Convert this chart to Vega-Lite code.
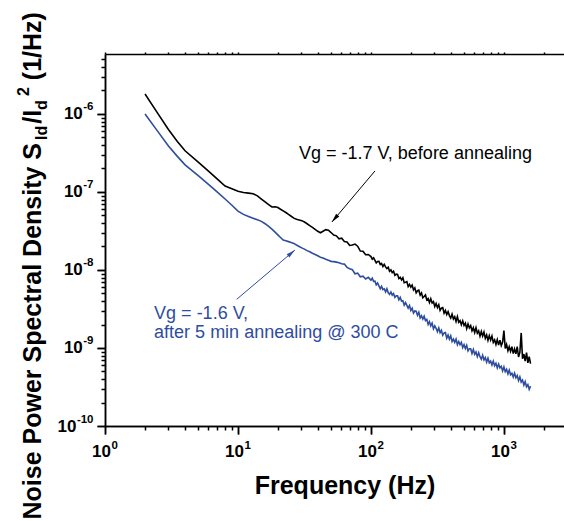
{
"$schema": "https://vega.github.io/schema/vega-lite/v6.json",
"width": 459, "height": 372,
"autosize": "none",
"padding": {"left": 105, "top": 54, "right": 0, "bottom": 95},
"background": "white",
"config": {"font": "Liberation Sans", "view": {"stroke": null},
 "axis": {"grid": false, "domainColor": "black", "tickColor": "black", "labelColor": "black", "titleColor": "black", "domainWidth": 1.5, "tickWidth": 1.5, "labelFlush": false, "labelOverlap": false}},
"datasets": {
"spec": [
{"f":2,"a":1.80e-6,"b":1.00e-6},{"f":2.5,"a":1.01e-6,"b":5.94e-7},{"f":3,"a":6.31e-7,"b":3.89e-7},{"f":3.5,"a":4.44e-7,"b":2.86e-7},{"f":4,"a":3.37e-7,"b":2.23e-7},{"f":5,"a":2.43e-7,"b":1.63e-7},{"f":6,"a":1.85e-7,"b":1.25e-7},{"f":7,"a":1.46e-7,"b":9.95e-8},{"f":8,"a":1.19e-7,"b":8.13e-8},{"f":9,"a":1.10e-7,"b":6.75e-8},
{"f":10,"a":1.02e-7,"b":5.69e-8},{"f":11,"a":9.86e-8,"b":5.16e-8},{"f":12,"a":9.66e-8,"b":4.86e-8},{"f":13,"a":9.48e-8,"b":4.61e-8},{"f":14,"a":8.91e-8,"b":4.39e-8},{"f":15,"a":8.11e-8,"b":4.20e-8},{"f":16,"a":7.45e-8,"b":3.92e-8},{"f":17,"a":6.90e-8,"b":3.61e-8},{"f":18,"a":6.43e-8,"b":3.34e-8},{"f":19,"a":6.46e-8,"b":3.06e-8},
{"f":19.95,"a":6.32e-8,"b":2.82e-8},{"f":20.89,"a":6.01e-8,"b":2.61e-8},{"f":21.88,"a":5.73e-8,"b":2.42e-8},{"f":22.91,"a":5.45e-8,"b":2.37e-8},{"f":23.99,"a":5.15e-8,"b":2.31e-8},{"f":25.12,"a":4.88e-8,"b":2.25e-8},{"f":26.30,"a":4.62e-8,"b":2.19e-8},{"f":27.54,"a":4.46e-8,"b":2.09e-8},{"f":28.84,"a":4.38e-8,"b":2.00e-8},{"f":30.20,"a":4.29e-8,"b":1.92e-8},
{"f":31.62,"a":4.12e-8,"b":1.85e-8},{"f":33.11,"a":3.91e-8,"b":1.77e-8},{"f":34.67,"a":3.71e-8,"b":1.71e-8},{"f":36.31,"a":3.52e-8,"b":1.64e-8},{"f":38.02,"a":3.32e-8,"b":1.58e-8},{"f":39.81,"a":3.13e-8,"b":1.52e-8},{"f":41.69,"a":3.00e-8,"b":1.46e-8},{"f":43.65,"a":3.14e-8,"b":1.42e-8},{"f":45.71,"a":3.29e-8,"b":1.37e-8},{"f":47.86,"a":3.23e-8,"b":1.33e-8},
{"f":50.12,"a":3.02e-8,"b":1.29e-8},{"f":52.48,"a":2.81e-8,"b":1.28e-8},{"f":54.95,"a":2.74e-8,"b":1.26e-8},{"f":57.54,"a":2.51e-8,"b":1.24e-8},{"f":60.26,"a":2.56e-8,"b":1.20e-8},{"f":63.10,"a":2.32e-8,"b":1.19e-8},{"f":66.07,"a":2.29e-8,"b":1.08e-8},{"f":69.18,"a":2.06e-8,"b":1.04e-8},{"f":72.44,"a":2.09e-8,"b":1.01e-8},{"f":75.86,"a":2.15e-8,"b":8.95e-9},
{"f":79.43,"a":2.02e-8,"b":9.12e-9},{"f":83.18,"a":1.75e-8,"b":8.17e-9},{"f":87.10,"a":1.74e-8,"b":8.32e-9},{"f":91.20,"a":1.57e-8,"b":7.67e-9},{"f":95.50,"a":1.58e-8,"b":8.04e-9},
{"f":100,"a":1.486e-8,"b":7.41e-9},{"f":102.3,"a":1.377e-8,"b":7.85e-9},{"f":104.7,"a":1.432e-8,"b":7.14e-9},{"f":107.2,"a":1.327e-8,"b":7.19e-9},{"f":109.6,"a":1.230e-8,"b":6.46e-9},{"f":112.2,"a":1.285e-8,"b":6.81e-9},{"f":114.8,"a":1.288e-8,"b":6.25e-9},{"f":117.5,"a":1.178e-8,"b":5.75e-9},{"f":120.2,"a":1.211e-8,"b":6.17e-9},{"f":123.0,"a":1.107e-8,"b":5.61e-9},
{"f":125.9,"a":1.180e-8,"b":5.74e-9},{"f":128.8,"a":1.096e-8,"b":5.24e-9},{"f":131.8,"a":1.042e-8,"b":5.74e-9},{"f":134.9,"a":1.086e-8,"b":5.11e-9},{"f":138.0,"a":9.64e-9,"b":4.88e-9},{"f":141.3,"a":1.002e-8,"b":5.22e-9},{"f":144.5,"a":9.27e-9,"b":4.76e-9},{"f":147.9,"a":9.64e-9,"b":4.99e-9},{"f":151.4,"a":8.53e-9,"b":4.45e-9},{"f":154.9,"a":8.85e-9,"b":4.66e-9},
{"f":158.5,"a":8.79e-9,"b":4.66e-9},{"f":162.2,"a":7.78e-9,"b":4.15e-9},{"f":166.0,"a":8.07e-9,"b":4.44e-9},{"f":169.8,"a":7.48e-9,"b":3.99e-9},{"f":173.8,"a":7.96e-9,"b":4.03e-9},{"f":177.8,"a":6.87e-9,"b":3.54e-9},{"f":182.0,"a":6.98e-9,"b":3.83e-9},{"f":186.2,"a":7.10e-9,"b":3.52e-9},{"f":190.5,"a":6.12e-9,"b":3.24e-9},{"f":195.0,"a":6.52e-9,"b":3.51e-9},
{"f":199.5,"a":6.04e-9,"b":3.03e-9},{"f":204.2,"a":6.41e-9,"b":3.23e-9},{"f":208.9,"a":5.55e-9,"b":2.80e-9},{"f":213.8,"a":5.90e-9,"b":2.98e-9},{"f":218.8,"a":5.09e-9,"b":2.96e-9},{"f":223.9,"a":5.42e-9,"b":2.63e-9},{"f":229.1,"a":5.51e-9,"b":2.87e-9},{"f":234.4,"a":4.76e-9,"b":2.43e-9},{"f":239.9,"a":5.07e-9,"b":2.59e-9},{"f":245.5,"a":4.40e-9,"b":2.35e-9},
{"f":251.2,"a":4.58e-9,"b":2.55e-9},{"f":257.0,"a":4.78e-9,"b":2.25e-9},{"f":263.0,"a":4.13e-9,"b":2.33e-9},{"f":269.2,"a":4.31e-9,"b":2.01e-9},{"f":275.4,"a":3.82e-9,"b":2.18e-9},{"f":281.8,"a":4.27e-9,"b":1.92e-9},{"f":288.4,"a":3.78e-9,"b":2.08e-9},{"f":295.1,"a":3.94e-9,"b":1.76e-9},{"f":302.0,"a":3.40e-9,"b":1.92e-9},{"f":309.0,"a":3.72e-9,"b":1.79e-9},
{"f":316.2,"a":3.29e-9,"b":1.62e-9},{"f":323.6,"a":3.59e-9,"b":1.81e-9},{"f":331.1,"a":3.03e-9,"b":1.57e-9},{"f":338.8,"a":3.24e-9,"b":1.68e-9},{"f":346.7,"a":3.29e-9,"b":1.46e-9},{"f":354.8,"a":2.79e-9,"b":1.56e-9},{"f":363.1,"a":3.03e-9,"b":1.58e-9},{"f":371.5,"a":2.69e-9,"b":1.34e-9},{"f":380.2,"a":2.93e-9,"b":1.47e-9},{"f":389.0,"a":2.60e-9,"b":1.30e-9},
{"f":398.1,"a":2.42e-9,"b":1.43e-9},{"f":407.4,"a":2.71e-9,"b":1.21e-9},{"f":416.9,"a":2.36e-9,"b":1.30e-9},{"f":426.6,"a":2.52e-9,"b":1.18e-9},{"f":436.5,"a":2.19e-9,"b":1.30e-9},{"f":446.7,"a":2.52e-9,"b":1.10e-9},{"f":457.1,"a":2.14e-9,"b":1.21e-9},{"f":467.7,"a":2.24e-9,"b":1.10e-9},{"f":478.6,"a":1.99e-9,"b":1.18e-9},{"f":489.8,"a":2.23e-9,"b":1.01e-9},
{"f":501.2,"a":1.94e-9,"b":1.10e-9},{"f":512.9,"a":2.08e-9,"b":9.82e-10},{"f":524.8,"a":1.77e-9,"b":1.08e-9},{"f":537.0,"a":2.03e-9,"b":9.16e-10},{"f":549.5,"a":1.81e-9,"b":9.80e-10},{"f":562.3,"a":1.94e-9,"b":9.80e-10},{"f":575.4,"a":1.66e-9,"b":8.51e-10},{"f":588.8,"a":1.82e-9,"b":9.55e-10},{"f":602.6,"a":1.58e-9,"b":8.32e-10},{"f":616.6,"a":1.82e-9,"b":8.89e-10},
{"f":631.0,"a":1.55e-9,"b":7.74e-10},{"f":645.7,"a":1.66e-9,"b":8.67e-10},{"f":660.7,"a":1.42e-9,"b":7.73e-10},{"f":676.1,"a":1.63e-9,"b":7.19e-10},{"f":691.8,"a":1.42e-9,"b":8.07e-10},{"f":707.9,"a":1.60e-9,"b":7.03e-10},{"f":724.4,"a":1.33e-9,"b":7.55e-10},{"f":741.3,"a":1.47e-9,"b":6.59e-10},{"f":758.6,"a":1.25e-9,"b":7.40e-10},{"f":776.2,"a":1.44e-9,"b":6.46e-10},
{"f":794.3,"a":1.26e-9,"b":6.78e-10},{"f":812.8,"a":1.42e-9,"b":6.04e-10},{"f":831.8,"a":1.18e-9,"b":6.79e-10},{"f":851.1,"a":1.27e-9,"b":5.93e-10},{"f":871.0,"a":1.11e-9,"b":6.35e-10},{"f":891.3,"a":1.28e-9,"b":5.55e-10},{"f":912.0,"a":1.09e-9,"b":6.22e-10},{"f":933.3,"a":1.26e-9,"b":5.56e-10},{"f":955.0,"a":1.07e-9,"b":5.82e-10},{"f":977.2,"a":1.18e-9,"b":5.08e-10},
{"f":1000,"a":1.67e-9,"b":5.70e-10},{"f":1023,"a":9.86e-10,"b":4.97e-10},{"f":1047,"a":1.11e-9,"b":5.32e-10},{"f":1072,"a":9.23e-10,"b":4.65e-10},{"f":1096,"a":1.04e-9,"b":5.21e-10},{"f":1122,"a":9.06e-10,"b":4.54e-10},{"f":1148,"a":1.04e-9,"b":4.75e-10},{"f":1175,"a":8.47e-10,"b":4.25e-10},{"f":1202,"a":9.70e-10,"b":4.76e-10},{"f":1230,"a":8.43e-10,"b":4.15e-10},
{"f":1259,"a":1.04e-9,"b":4.44e-10},{"f":1288,"a":7.67e-10,"b":3.82e-10},{"f":1318,"a":8.79e-10,"b":4.25e-10},{"f":1349,"a":1.56e-9,"b":3.66e-10},{"f":1380,"a":7.29e-10,"b":3.87e-10},{"f":1413,"a":8.36e-10,"b":3.34e-10},{"f":1445,"a":6.78e-10,"b":3.71e-10},{"f":1479,"a":8.73e-10,"b":3.19e-10},{"f":1514,"a":6.46e-10,"b":3.39e-10},{"f":1549,"a":7.76e-10,"b":2.95e-10},
{"f":1585,"a":6.31e-10,"b":3.24e-10}
],
"noteBefore": [{"f": 28.74, "v": 2.62e-7, "t": "Vg = -1.7 V, before annealing"}],
"noteAfter": [{"f": 2.34, "v": 2.33e-9, "t": "Vg = -1.6 V,\nafter 5 min annealing @ 300 C"}],
"arrowBefore": [{"fs": 107.2, "vs": 1.86e-7, "fe": 50.9, "ve": 4.12e-8, "fh": 53.8, "vh": 4.61e-8}],
"arrowAfter": [{"fs": 9.78, "vs": 4.21e-9, "fe": 26.8, "ve": 1.80e-8, "fh": 25.1, "vh": 1.64e-8}]
},
"resolve": {"scale": {"x": "shared", "y": "shared"}, "axis": {"x": "independent", "y": "independent"}},
"layer": [
{"data": {"name": "spec"},
 "mark": {"type": "line", "color": "black", "strokeWidth": 1.6},
 "encoding": {
  "x": {"field": "f", "type": "quantitative", "scale": {"type": "log", "domain": [1, 2830], "nice": false},
   "axis": {"orient": "bottom", "values": [1, 10, 100, 1000], "tickSize": 8,
    "labelExpr": "'10'", "labelAlign": "center", "labelOffset": -4,
    "labelFontSize": 17, "labelFontWeight": "bold", "labelPadding": 9.5,
    "title": "Frequency (Hz)", "titleFontSize": 25, "titleFontWeight": "bold", "titleX": 239.5, "titleY": 67, "titleAlign": "center", "titleBaseline": "alphabetic"}},
  "y": {"field": "a", "type": "quantitative", "scale": {"type": "log", "domain": [1e-10, 5.87e-6], "nice": false},
   "axis": {"orient": "left", "values": [1e-10, 1e-9, 1e-8, 1e-7, 1e-6], "tickSize": 8,
    "labelExpr": "'10'", "labelAlign": "right", "labelBaseline": "middle",
    "labelFontSize": 17, "labelFontWeight": "bold",
    "labelPadding": {"condition": {"test": "datum.value < 5e-10", "value": 21}, "value": 14.7},
    "title": "Noise Power Spectral Density S", "titleFontSize": 25, "titleFontWeight": "bold", "titleAngle": 270, "titleAlign": "left", "titleBaseline": "alphabetic", "titleX": -65, "titleY": 465}}
 }},
{"data": {"name": "spec"},
 "mark": {"type": "line", "color": "#2e4d9f", "strokeWidth": 1.6},
 "encoding": {
  "x": {"field": "f", "type": "quantitative", "scale": {"type": "log", "domain": [1, 2830], "nice": false},
   "axis": {"orient": "bottom", "values": [2, 3, 4, 5, 6, 7, 8, 9, 20, 30, 40, 50, 60, 70, 80, 90, 200, 300, 400, 500, 600, 700, 800, 900, 2000], "tickSize": 4, "labels": false, "title": null}},
  "y": {"field": "b", "type": "quantitative", "scale": {"type": "log", "domain": [1e-10, 5.87e-6], "nice": false},
   "axis": {"orient": "left", "values": [2e-10, 3e-10, 4e-10, 5e-10, 6e-10, 7e-10, 8e-10, 9e-10, 2e-9, 3e-9, 4e-9, 5e-9, 6e-9, 7e-9, 8e-9, 9e-9, 2e-8, 3e-8, 4e-8, 5e-8, 6e-8, 7e-8, 8e-8, 9e-8, 2e-7, 3e-7, 4e-7, 5e-7, 6e-7, 7e-7, 8e-7, 9e-7, 2e-6, 3e-6, 4e-6, 5e-6], "tickSize": 4, "labels": false,
    "title": "Id", "titleFontSize": 16, "titleFontWeight": "bold", "titleAngle": 270, "titleAlign": "left", "titleBaseline": "alphabetic", "titleX": -59, "titleY": 85.5}}
 }},
{"data": {"name": "noteBefore"},
 "mark": {"type": "text", "align": "left", "baseline": "alphabetic", "fontSize": 18, "color": "black"},
 "encoding": {
  "x": {"field": "f", "type": "quantitative", "scale": {"type": "log", "domain": [1, 2830], "nice": false},
   "axis": {"orient": "top", "values": [1, 2, 3, 4, 5, 6, 7, 8, 9, 10, 20, 30, 40, 50, 60, 70, 80, 90, 100, 200, 300, 400, 500, 600, 700, 800, 900, 1000, 2000], "tickSize": 2, "labels": false, "title": null}},
  "y": {"field": "v", "type": "quantitative", "scale": {"type": "log", "domain": [1e-10, 5.87e-6], "nice": false},
   "axis": {"orient": "left", "ticks": false, "labels": false, "domain": false,
    "title": "/I", "titleFontSize": 25, "titleFontWeight": "bold", "titleAngle": 270, "titleAlign": "left", "titleBaseline": "alphabetic", "titleX": -65, "titleY": 69.3}},
  "text": {"field": "t", "type": "nominal"}
 }},
{"data": {"name": "noteAfter"},
 "mark": {"type": "text", "align": "left", "baseline": "alphabetic", "fontSize": 18, "color": "#2e4d9f", "lineBreak": "\n", "lineHeight": 19},
 "encoding": {
  "x": {"field": "f", "type": "quantitative", "axis": null},
  "y": {"field": "v", "type": "quantitative",
   "axis": {"orient": "left", "ticks": false, "labels": false, "domain": false,
    "title": "d", "titleFontSize": 16, "titleFontWeight": "bold", "titleAngle": 270, "titleAlign": "left", "titleBaseline": "alphabetic", "titleX": -59, "titleY": 55.4}},
  "text": {"field": "t", "type": "nominal"}
 }},
{"data": {"name": "arrowBefore"},
 "mark": {"type": "rule", "color": "black", "strokeWidth": 1},
 "encoding": {
  "x": {"field": "fs", "type": "quantitative", "axis": null},
  "y": {"field": "vs", "type": "quantitative",
   "axis": {"orient": "left", "ticks": false, "labels": false, "domain": false,
    "title": "2", "titleFontSize": 16, "titleFontWeight": "bold", "titleAngle": 270, "titleAlign": "left", "titleBaseline": "alphabetic", "titleX": -77, "titleY": 41.6}},
  "x2": {"field": "fe"}, "y2": {"field": "ve"}
 }},
{"data": {"name": "arrowBefore"},
 "mark": {"type": "point", "shape": "M0,-1L0.42,0.8L-0.42,0.8Z", "filled": true, "color": "black", "opacity": 1, "size": 100, "angle": 220},
 "encoding": {
  "x": {"field": "fh", "type": "quantitative", "axis": null},
  "y": {"field": "vh", "type": "quantitative",
   "axis": {"orient": "left", "ticks": false, "labels": false, "domain": false,
    "title": "(1/Hz)", "titleFontSize": 25, "titleFontWeight": "bold", "titleAngle": 270, "titleAlign": "left", "titleBaseline": "alphabetic", "titleX": -65, "titleY": 25.7}}
 }},
{"data": {"name": "arrowAfter"},
 "mark": {"type": "rule", "color": "#2e4d9f", "strokeWidth": 1},
 "encoding": {
  "x": {"field": "fs", "type": "quantitative",
   "axis": {"orient": "bottom", "values": [1, 10, 100, 1000], "tickSize": 8, "domain": false,
    "labelExpr": "datum.value < 5 ? '0' : datum.value < 50 ? '1' : datum.value < 500 ? '2' : '3'",
    "labelAlign": "left", "labelOffset": 6, "labelPadding": 5, "labelFontSize": 11.5, "labelFontWeight": "bold", "title": null}},
  "y": {"field": "vs", "type": "quantitative",
   "axis": {"orient": "left", "values": [1e-10, 1e-9, 1e-8, 1e-7, 1e-6], "tickSize": 8, "domain": false,
    "labelExpr": "datum.value < 5e-10 ? '-10' : datum.value < 5e-9 ? '-9' : datum.value < 5e-8 ? '-8' : datum.value < 5e-7 ? '-7' : '-6'",
    "labelAlign": "right", "labelBaseline": "middle", "labelOffset": -7, "labelPadding": 4, "labelFontSize": 11.5, "labelFontWeight": "bold", "title": null}},
  "x2": {"field": "fe"}, "y2": {"field": "ve"}
 }},
{"data": {"name": "arrowAfter"},
 "mark": {"type": "point", "shape": "M0,-1L0.42,0.8L-0.42,0.8Z", "filled": true, "color": "#2e4d9f", "opacity": 1, "size": 100, "angle": 50},
 "encoding": {
  "x": {"field": "fh", "type": "quantitative", "axis": null},
  "y": {"field": "vh", "type": "quantitative", "axis": null}
 }}
]
}
